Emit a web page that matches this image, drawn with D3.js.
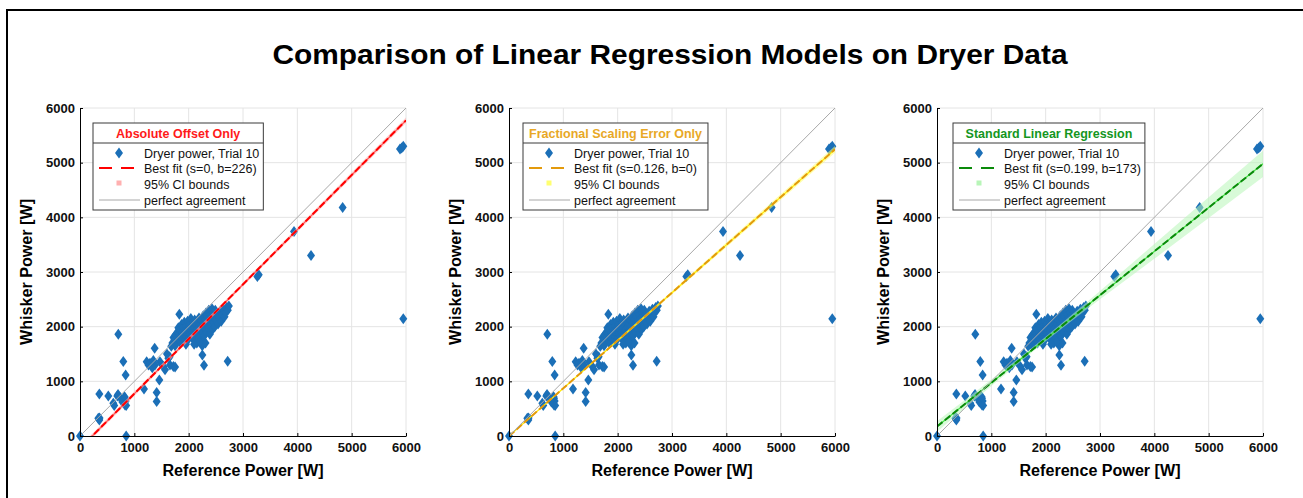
<!DOCTYPE html>
<html>
<head>
<meta charset="utf-8">
<script src="https://cdn.jsdelivr.net/npm/d3@7"></script>
<style>
  body { margin: 0; background: #fff; }
  svg { display: block; font-family: "Liberation Sans", Arial, sans-serif; }
</style>
</head>
<body>
<svg id="chart"></svg>
<script>
// reference power (x) and whisker power (y)
const refPower = [
  0, 850, 356, 337, 360, 356, 521, 613, 630, 687, 700, 828, 840, 828, 705, 797, 840,
  740, 780, 820, 850, 1178, 1411, 1411, 1460, 1374, 1227, 1260, 1288, 1330, 1350, 1380,
  1472, 1534, 1565, 1626, 1656, 1718, 1750, 1600, 1650, 1828, 2252, 2282, 2718, 3264,
  3290, 3939, 4252, 4834, 5920, 5890, 5950, 5950,
  1700, 1720, 1740, 1760, 1780, 1790, 1800, 1810, 1820, 1830, 1840, 1850, 1860, 1870,
  1880, 1890, 1900, 1910, 1920, 1930, 1940, 1950, 1960, 1970, 1980, 1990, 2000, 2010,
  2020, 2030, 2040, 2050, 2060, 2070, 2080, 2090, 2100, 2110, 2120, 2130, 2140, 2150,
  2160, 2170, 2180, 2190, 2200, 2210, 2220, 2230, 2240, 2250, 2260, 2270, 2280, 2290,
  2300, 2310, 2320, 2330, 2340, 2350, 2360, 2370, 2380, 2390, 2400, 2410, 2420, 2430,
  2440, 2450, 2460, 2470, 2480, 2490, 2500, 2520, 2540, 2560, 2580, 2600, 2620, 2640,
  2660, 2680, 2700, 2720, 2740, 1680, 1750, 2250, 2310, 2200, 2100, 1950
];
const whiskerPower = [
  0, 0, 293, 323, 330, 769, 732, 598, 560, 732, 760, 690, 640, 568, 1862, 1361, 1117,
  700, 620, 720, 560, 861, 794, 629, 1025, 1605, 1360, 1300, 1330, 1250, 1380, 1300,
  1360, 1270, 1210, 1420, 1300, 1270, 1260, 1500, 1450, 2228, 1483, 1294, 1367, 2918,
  2950, 3742, 3302, 4181, 5268, 5250, 5300, 2143,
  1700, 1800, 1760, 1850, 1720, 1900, 1800, 1980, 1760, 1870, 1950, 1700, 1820, 2040,
  1900, 1780, 1990, 1860, 2080, 1750, 1930, 2010, 1820, 1890, 2100, 1960, 1780, 2040,
  1870, 1950, 2150, 1820, 2000, 1900, 2080, 1760, 1980, 2120, 1850, 2030, 1930, 1700,
  2090, 1880, 1990, 2160, 1800, 2050, 1940, 2120, 1760, 2010, 1890, 2200, 2070, 1840,
  1960, 2130, 2250, 1900, 2040, 2180, 1980, 2300, 2100, 1860, 2220, 2020, 2150, 2330,
  1950, 2260, 2080, 2190, 2000, 2300, 2120, 2230, 2050, 2170, 2280, 2100, 2220, 2320,
  2180, 2260, 2350, 2300, 2380, 1640, 1650, 1650, 1700, 1720, 1680, 1680
];

const tickValues = [0, 1000, 2000, 3000, 4000, 5000, 6000];

const modelTitles = ['Absolute Offset Only', 'Fractional Scaling Error Only', 'Standard Linear Regression'];
const fitLabels = ['Best fit (s=0, b=226)', 'Best fit (s=0.126, b=0)', 'Best fit (s=0.199, b=173)'];
const fitSlopes = [1, 0.874, 0.801];
const fitIntercepts = [-226, 0, 173];

// half width of the 95% CI band at ciX
const ciX = [0, 1000, 2000, 3000, 4000, 5000, 6000];
const ciHalfOffset = [45, 40, 35, 35, 40, 45, 50];
const ciHalfScale = [0, 12, 22, 32, 42, 52, 62];
const ciHalfStandard = [95, 60, 40, 75, 135, 190, 240];

const legendLabels = ['Dryer power, Trial 10', null, '95% CI bounds', 'perfect agreement'];

const titleColors = ['#ff1a1a', '#e8a826', '#14961e'];
const fitColors = ['#ff0000', '#e39a0c', '#0a8a0a'];
const centerColors = ['#ff5555', '#ffe600', '#3ee03e'];
const bandColors = ['#ffb0b0', '#ffff70', '#b8f5b8'];

const panels = modelTitles.map((t, i) => ({
  title: t,
  fitLabel: fitLabels[i],
  slope: fitSlopes[i],
  intercept: fitIntercepts[i],
  ci: [ciHalfOffset, ciHalfScale, ciHalfStandard][i],
  titleColor: titleColors[i],
  fitColor: fitColors[i],
  centerColor: centerColors[i],
  bandColor: bandColors[i]
}));
const points = refPower.map((x, i) => ({ x, y: whiskerPower[i] }));

const width = 1303, height = 498;
const plotLefts = [80, 509, 937];
const plotTop = 108, plotW = 326, plotH = 328;
const markerColor = '#1b6fb7';

const svg = d3.select('#chart').attr('width', width).attr('height', height);

// outer frame (left + top)
svg.append('line').attr('x1', 7).attr('x2', 7).attr('y1', 10).attr('y2', height)
  .attr('stroke', '#000').attr('stroke-width', 2);
svg.append('line').attr('x1', 6).attr('x2', width).attr('y1', 10).attr('y2', 10)
  .attr('stroke', '#000').attr('stroke-width', 2);

svg.append('text')
  .attr('x', 670).attr('y', 64)
  .attr('text-anchor', 'middle')
  .attr('font-size', 27).attr('font-weight', 'bold')
  .attr('textLength', 795).attr('lengthAdjust', 'spacingAndGlyphs')
  .text('Comparison of Linear Regression Models on Dryer Data');

const diamond = 'M0,-5.5L4,0L0,5.5L-4,0Z';

panels.forEach((p, pi) => {
  const left = plotLefts[pi];
  const x = d3.scaleLinear().domain([0, 6000]).range([0, plotW]);
  const y = d3.scaleLinear().domain([0, 6000]).range([plotH, 0]);

  const g = svg.append('g').attr('transform', `translate(${left},${plotTop})`);

  g.append('clipPath').attr('id', 'clip' + pi)
    .append('rect').attr('width', plotW).attr('height', plotH);

  // grid
  g.append('g').selectAll('line').data(tickValues.slice(1)).join('line')
    .attr('x1', d => x(d)).attr('x2', d => x(d)).attr('y1', 0).attr('y2', plotH)
    .attr('stroke', '#e4e4e4');
  g.append('g').selectAll('line').data(tickValues.slice(1)).join('line')
    .attr('y1', d => y(d)).attr('y2', d => y(d)).attr('x1', 0).attr('x2', plotW)
    .attr('stroke', '#e4e4e4');

  // scatter (not clipped, so edge markers show whole)
  g.append('g').selectAll('path').data(points).join('path')
    .attr('d', diamond)
    .attr('transform', d => `translate(${x(d.x)},${y(d.y)})`)
    .attr('fill', markerColor);

  const plot = g.append('g').attr('clip-path', `url(#clip${pi})`);

  // CI band
  const fit = v => p.slope * v + p.intercept;
  const band = d3.area()
    .x(d => x(d))
    .y0((d, i) => y(fit(d) - p.ci[i]))
    .y1((d, i) => y(fit(d) + p.ci[i]))
    .curve(d3.curveMonotoneX);
  plot.append('path').datum(ciX).attr('d', band)
    .attr('fill', p.bandColor).attr('fill-opacity', 0.55);

  const fitLine = d3.line().x(d => x(d)).y(d => y(fit(d)));
  plot.append('path').datum([0, 6000]).attr('d', fitLine)
    .attr('fill', 'none').attr('stroke', p.centerColor).attr('stroke-width', 1.2);
  plot.append('path').datum([0, 6000]).attr('d', fitLine)
    .attr('fill', 'none').attr('stroke', p.fitColor).attr('stroke-width', 2)
    .attr('stroke-dasharray', '7,3');

  // perfect agreement
  plot.append('path').datum([0, 6000])
    .attr('d', d3.line().x(d => x(d)).y(d => y(d)))
    .attr('fill', 'none').attr('stroke', '#a8a8a8').attr('stroke-width', 1);

  // axes
  const yAxis = g.append('g')
    .call(d3.axisLeft(y).tickValues(tickValues).tickFormat(d3.format('d'))
      .tickSize(-3).tickSizeOuter(0).tickPadding(5));
  const xAxis = g.append('g').attr('transform', `translate(0,${plotH})`)
    .call(d3.axisBottom(x).tickValues(tickValues).tickFormat(d3.format('d'))
      .tickSize(-3).tickSizeOuter(0).tickPadding(7));
  [xAxis, yAxis].forEach(a => {
    a.select('.domain').attr('stroke', '#000');
    a.selectAll('.tick line').attr('stroke', '#000');
    a.selectAll('.tick text')
      .attr('font-family', '"Liberation Sans", Arial, sans-serif')
      .attr('font-size', 13).attr('font-weight', 'bold').attr('fill', '#111');
  });

  g.append('text')
    .attr('transform', `translate(${-48},${plotH / 2}) rotate(-90)`)
    .attr('text-anchor', 'middle')
    .attr('font-size', 16).attr('font-weight', 'bold')
    .attr('textLength', 146).attr('lengthAdjust', 'spacingAndGlyphs')
    .text('Whisker Power [W]');
  g.append('text')
    .attr('x', plotW / 2).attr('y', plotH + 40)
    .attr('text-anchor', 'middle')
    .attr('font-size', 16).attr('font-weight', 'bold')
    .attr('textLength', 161).attr('lengthAdjust', 'spacingAndGlyphs')
    .text('Reference Power [W]');

  // legend
  const lg = g.append('g').attr('transform', `translate(${13 + (pi === 2 ? 3 : pi)},15)`);
  const box = lg.append('rect').attr('fill', '#fff').attr('stroke', '#3a3a3a').attr('stroke-width', 1);
  const sep = lg.append('line').attr('stroke', '#3a3a3a');
  const titleText = lg.append('text')
    .attr('y', 14.5).attr('text-anchor', 'middle')
    .attr('font-size', 12.5).attr('font-weight', 'bold')
    .attr('fill', p.titleColor).text(p.title);
  const labels = legendLabels.map(l => l === null ? p.fitLabel : l);
  const rowY = [30, 45, 61, 77];
  const texts = lg.append('g').selectAll('text').data(labels).join('text')
    .attr('x', 51).attr('y', (d, i) => rowY[i] + 4.5)
    .attr('font-size', 12.5).attr('fill', '#111').text(d => d);
  let maxW = 0;
  texts.each(function () { maxW = Math.max(maxW, this.getComputedTextLength()); });
  const boxW = Math.max(51 + maxW + 4, titleText.node().getComputedTextLength() + 12);
  box.attr('width', boxW).attr('height', 87);
  sep.attr('x1', 0).attr('x2', boxW).attr('y1', 20).attr('y2', 20);
  titleText.attr('x', boxW / 2);

  lg.append('path').attr('d', diamond).attr('transform', `translate(26,${rowY[0]})`).attr('fill', markerColor);
  lg.append('line').attr('x1', 6).attr('x2', 41).attr('y1', rowY[1]).attr('y2', rowY[1])
    .attr('stroke', p.fitColor).attr('stroke-width', 2).attr('stroke-dasharray', '13,9');
  lg.append('rect').attr('x', 23.5).attr('y', rowY[2] - 3.5).attr('width', 5).attr('height', 5)
    .attr('fill', p.bandColor);
  lg.append('line').attr('x1', 6).attr('x2', 47).attr('y1', rowY[3]).attr('y2', rowY[3])
    .attr('stroke', '#a8a8a8').attr('stroke-width', 1);
});
</script>
</body>
</html>
